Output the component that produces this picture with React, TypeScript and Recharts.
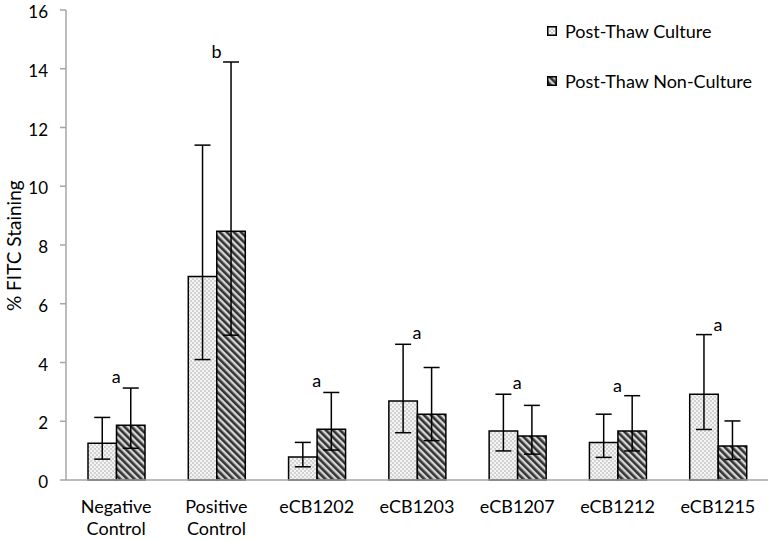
import React from 'react';
import { BarChart, Bar, XAxis, YAxis, ErrorBar, ReferenceDot, Legend } from 'recharts';

const categories = ['Negative Control', 'Positive Control', 'eCB1202', 'eCB1203', 'eCB1207', 'eCB1212', 'eCB1215'];
const cultureMean = [1.25, 6.93, 0.78, 2.69, 1.67, 1.28, 2.92];
const cultureLow = [0.71, 4.1, 0.45, 1.61, 0.99, 0.77, 1.72];
const cultureHigh = [2.13, 11.4, 1.28, 4.62, 2.92, 2.24, 4.95];
const nonMean = [1.86, 8.47, 1.73, 2.24, 1.5, 1.67, 1.16];
const nonLow = [1.08, 4.93, 1.02, 1.34, 0.88, 0.99, 0.7];
const nonHigh = [3.13, 14.23, 2.98, 3.83, 2.54, 2.87, 2.01];
const letters = ['a', 'b', 'a', 'a', 'a', 'a', 'a'];
const letterY = [3.53, 14.6, 3.4, 5.03, 3.3, 3.23, 5.3];
const yTicks = [0, 2, 4, 6, 8, 10, 12, 14, 16];
const seriesNames = ['Post-Thaw Culture', 'Post-Thaw Non-Culture'];

const data = categories.map((c, i) => ({
  name: c,
  culture: cultureMean[i],
  cultureErr: [cultureMean[i] - cultureLow[i], cultureHigh[i] - cultureMean[i]],
  non: nonMean[i],
  nonErr: [nonMean[i] - nonLow[i], nonHigh[i] - nonMean[i]],
}));

const FONT = 'Lato, "Open Sans", sans-serif';

const XTick = (props: any) => {
  const { x, y, payload } = props;
  const words: string[] = String(payload.value).split(' ');
  return (
    <g transform={`translate(${x},${y})`}>
      {words.map((w, i) => (
        <text key={i} x={0} y={18 + i * 22} textAnchor="middle" dominantBaseline="central" fontSize={18} fill="#000" fontFamily={FONT}>
          {w}
        </text>
      ))}
    </g>
  );
};

const LegendContent = () => (
  <div style={{ fontFamily: FONT, fontSize: 18, color: '#000' }}>
    {seriesNames.map((n, i) => (
      <div key={n} style={{ display: 'flex', alignItems: 'center', height: 22, marginBottom: i === 0 ? 28 : 0 }}>
        <svg width={10} height={10} style={{ marginRight: 8 }}>
          <rect x={0.75} y={0.75} width={8.5} height={8.5} fill={i === 0 ? 'url(#patCulture)' : 'url(#patNon)'} stroke="#000" strokeWidth={1.5} />
        </svg>
        <span>{n}</span>
      </div>
    ))}
  </div>
);

export default function App() {
  return (
    <div style={{ position: 'absolute', left: 0, top: 0, width: 772, height: 541, background: '#fff', fontFamily: FONT }}>
      <BarChart width={772} height={541} data={data} margin={{ top: 10, right: 4, bottom: 0, left: 0 }} barGap={0} barSize={28.5}>
        <defs>
          <pattern id="patCulture" width={4} height={4} patternUnits="userSpaceOnUse">
            <rect x={0} y={0} width={4} height={4} fill="#d2d2d2" />
            <rect x={0} y={0} width={2} height={2} fill="#f4f4f4" />
            <rect x={2} y={2} width={2} height={2} fill="#f4f4f4" />
          </pattern>
          <pattern id="patNon" width={5} height={5} patternUnits="userSpaceOnUse" patternTransform="rotate(-45)">
            <rect x={0} y={0} width={5} height={5} fill="#d6d6d6" />
            <rect x={0} y={0} width={2.6} height={5} fill="#333" />
          </pattern>
        </defs>
        <XAxis dataKey="name" height={61} axisLine={{ stroke: '#a6a6a6', strokeWidth: 1.5 }} tickLine={false} tick={<XTick />} interval={0} />
        <YAxis
          width={66}
          domain={[0, 16]}
          ticks={yTicks}
          interval={0}
          axisLine={{ stroke: '#a6a6a6', strokeWidth: 1.5 }}
          tickLine={{ stroke: '#a6a6a6', strokeWidth: 1.5 }}
          tickSize={6}
          tickMargin={12}
          tick={{ fontSize: 17, fill: '#000', fontFamily: FONT, dy: 2 }}
          label={{ value: '% FITC Staining', angle: -90, position: 'insideLeft', dx: 9, dy: 66, style: { fontSize: 19, fill: '#000', fontFamily: FONT } }}
        />
        <Legend
          layout="horizontal"
          verticalAlign="middle"
          align="center"
          content={<LegendContent />}
          wrapperStyle={{ position: 'absolute', left: 547, top: 20, width: 220 }}
        />
        <Bar dataKey="culture" name={seriesNames[0]} fill="url(#patCulture)" stroke="#000" strokeWidth={1.5} isAnimationActive={false}>
          <ErrorBar dataKey="cultureErr" width={8} stroke="#000" strokeWidth={1.5} direction="y" />
        </Bar>
        <Bar dataKey="non" name={seriesNames[1]} fill="url(#patNon)" stroke="#000" strokeWidth={1.5} isAnimationActive={false}>
          <ErrorBar dataKey="nonErr" width={8} stroke="#000" strokeWidth={1.5} direction="y" />
        </Bar>
        {categories.map((c, i) => (
          <ReferenceDot
            key={c}
            x={c}
            y={letterY[i]}
            r={1}
            fill="none"
            stroke="none"
            ifOverflow="visible"
            label={{ value: letters[i], position: 'center', fontSize: 18, fill: '#000', fontFamily: FONT }}
          />
        ))}
      </BarChart>
    </div>
  );
}
